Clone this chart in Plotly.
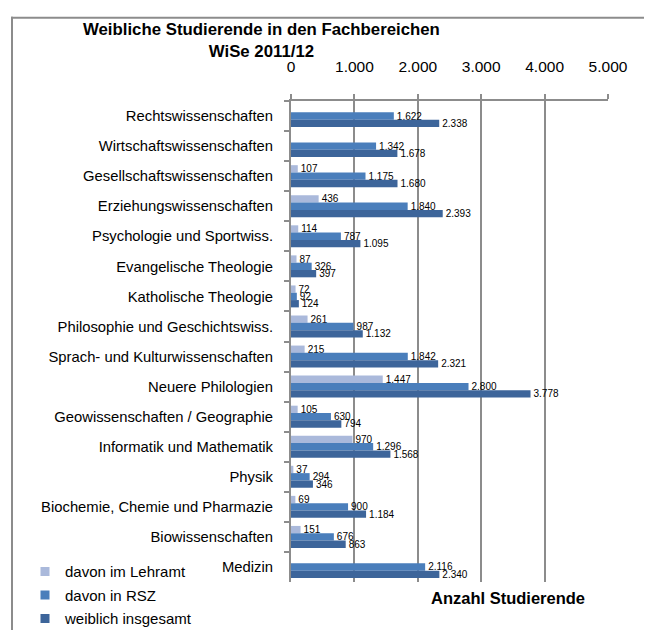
import plotly.graph_objects as go

categories = [
    "Rechtswissenschaften",
    "Wirtschaftswissenschaften",
    "Gesellschaftswissenschaften",
    "Erziehungswissenschaften",
    "Psychologie und Sportwiss.",
    "Evangelische Theologie",
    "Katholische Theologie",
    "Philosophie und Geschichtswiss.",
    "Sprach- und Kulturwissenschaften",
    "Neuere Philologien",
    "Geowissenschaften / Geographie",
    "Informatik und Mathematik",
    "Physik",
    "Biochemie, Chemie und Pharmazie",
    "Biowissenschaften",
    "Medizin",
]
lehramt = [None, None, 107, 436, 114, 87, 72, 261, 215, 1447, 105, 970, 37, 69, 151, None]
rsz = [1622, 1342, 1175, 1840, 787, 326, 92, 987, 1842, 2800, 630, 1296, 294, 900, 676, 2116]
insgesamt = [2338, 1678, 1680, 2393, 1095, 397, 124, 1132, 2321, 3778, 794, 1568, 346, 1184, 863, 2340]

series_names = ["davon im Lehramt", "davon in RSZ", "weiblich insgesamt"]
series_values = [lehramt, rsz, insgesamt]
series_colors = ["#AAB9DB", "#4A7EBB", "#3D659A"]
x_ticks = [0, 1000, 2000, 3000, 4000, 5000]

FONT = "Liberation Sans, Arial, sans-serif"
W, H = 652, 639
L, R, T, B = 283, 52, 93, 44
PW, PH = W - L - R, H - T - B


def px_x(px):
    return (px - L) / PW


def px_y(py):
    return (H - B - py) / PH


fig = go.Figure()
for name, vals, col in zip(series_names, series_values, series_colors):
    fig.add_trace(go.Bar(
        y=categories, x=vals, name=name, orientation="h",
        marker=dict(color=col, line=dict(width=0)),
        texttemplate="%{x:,}", textposition="outside",
        constraintext="none",
        textfont=dict(size=10, color="#000000", family=FONT),
        cliponaxis=False, showlegend=False,
    ))
# legend entries (small square keys like the original)
for name, col in zip(series_names, series_colors):
    fig.add_trace(go.Scatter(
        x=[None], y=[None], mode="markers", name=name,
        marker=dict(symbol="square", size=9, color=col),
        showlegend=True, legendgroup=name,
    ))

grey = "#8c8c8c"
fig.update_layout(
    width=W, height=H,
    margin=dict(l=L, r=R, t=T, b=B, pad=0),
    paper_bgcolor="white", plot_bgcolor="white",
    font=dict(family=FONT, color="#000000"),
    separators=",.",
    barmode="group", bargap=0.27, bargroupgap=0,
    showlegend=True,
    legend=dict(
        x=px_x(17), y=px_y(567), xanchor="left", yanchor="top",
        font=dict(size=15, family=FONT), bgcolor="rgba(0,0,0,0)",
        traceorder="grouped", tracegroupgap=1, itemwidth=30,
    ),
    xaxis=dict(
        side="top", range=[0, 5000], tickvals=x_ticks, tickformat=",",
        showgrid=True, gridcolor=grey, gridwidth=1.5,
        showline=True, linecolor=grey, linewidth=2,
        ticks="outside", ticklen=5, tickcolor=grey, tickwidth=1.5,
        tickfont=dict(size=15.5, family=FONT), ticklabelstandoff=16,
        zeroline=False, fixedrange=True,
    ),
    yaxis=dict(
        autorange="reversed", type="category",
        showline=True, linecolor=grey, linewidth=2,
        ticks="outside", ticklen=5, tickcolor=grey, tickwidth=1.5,
        tickson="boundaries", showgrid=False,
        tickfont=dict(size=14.8, family=FONT), ticklabelstandoff=13,
    ),
    annotations=[
        dict(text="<b>Weibliche Studierende in den Fachbereichen<br>WiSe 2011/12</b>",
             xref="paper", yref="paper", x=px_x(253), y=px_y(6),
             xanchor="center", yanchor="top", align="center", showarrow=False,
             font=dict(size=16.8, family=FONT)),
        dict(text="<b>Anzahl Studierende</b>",
             xref="paper", yref="paper", x=px_x(500), y=px_y(612),
             xanchor="center", yanchor="middle", showarrow=False,
             font=dict(size=16.5, family=FONT)),
    ],
    shapes=[
        dict(type="line", xref="paper", yref="paper",
             x0=px_x(3), x1=px_x(660), y0=px_y(6), y1=px_y(6),
             line=dict(color=grey, width=2)),
        dict(type="line", xref="paper", yref="paper",
             x0=px_x(4), x1=px_x(4), y0=px_y(5), y1=px_y(645),
             line=dict(color=grey, width=2)),
    ],
)

fig.write_html("out.html")
